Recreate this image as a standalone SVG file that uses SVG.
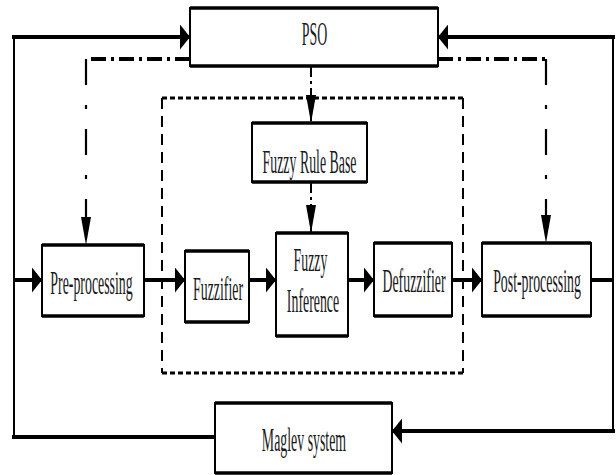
<svg xmlns="http://www.w3.org/2000/svg" width="616" height="475" viewBox="0 0 616 475">
<style>
.box{fill:#fff;stroke:#000;stroke-width:2}
.edge{fill:none;stroke:#000;stroke-width:3.5}
.lbl{font-family:"Liberation Serif","Times New Roman",serif;font-size:33px;fill:#1a1a1a;text-anchor:middle}
.flow{fill:none;stroke:#000;stroke-width:4}
.thin{fill:none;stroke:#000;stroke-width:2}
.dd{fill:none;stroke:#000;stroke-width:4;stroke-dasharray:15 5 3 5}
.ddv{fill:none;stroke:#000;stroke-width:2.2;stroke-dasharray:26 20 4 20}
.ddc{fill:none;stroke:#000;stroke-width:2;stroke-dasharray:11 4 3 4}
.dh{fill:none;stroke:#000;stroke-width:3;stroke-dasharray:5 3}
.dv{fill:none;stroke:#000;stroke-width:2;stroke-dasharray:11 7}
</style>
<defs>
<marker id="ah" markerUnits="userSpaceOnUse" markerWidth="10" markerHeight="25" refX="10" refY="12.5" orient="auto"><path d="M0,0 L10,12.5 L0,25 z" fill="#000"/></marker>
<marker id="av" markerUnits="userSpaceOnUse" markerWidth="28" markerHeight="10" refX="28" refY="5" orient="auto"><path d="M0,0 L28,5 L0,10 z" fill="#000"/></marker>
</defs>

<g id="connectors">
<path class="dh" d="M162,98 H463 M162,373 H463"/>
<path class="dv" d="M162,98 V373 M463,98 V373"/>
<path class="thin" d="M14,35 V439"/>
<path class="flow" d="M12,37 H190" marker-end="url(#ah)"/>
<path class="flow" d="M12,437 H215"/>
<path class="thin" d="M613,35 V433"/>
<path class="flow" d="M615,37 H438" marker-end="url(#ah)"/>
<path class="flow" d="M615,431 H392" marker-end="url(#ah)"/>
<path class="flow" d="M14,280 H42" marker-end="url(#ah)"/>
<path class="flow" d="M144,280 H185" marker-end="url(#ah)"/>
<path class="flow" d="M249,280 H276" marker-end="url(#ah)"/>
<path class="flow" d="M348,280 H374" marker-end="url(#ah)"/>
<path class="flow" d="M452,280 H482" marker-end="url(#ah)"/>
<path class="flow" d="M591,280 H613"/>
<path class="dd" d="M190,59 H86"/>
<path class="ddv" d="M86,59 V245" marker-end="url(#av)"/>
<path class="dd" d="M438,59 H546"/>
<path class="ddv" d="M546,59 V243" marker-end="url(#av)"/>
<path class="ddc" d="M311,66 V123" marker-end="url(#av)"/>
<path class="ddc" d="M311,182 V233" marker-end="url(#av)"/>
</g>

<g id="pso">
<rect class="box" x="190" y="8" width="248" height="58"/>
<path class="edge" d="M190,8 H438 M190,66 H438"/>
<text class="lbl" transform="translate(314.5,45) scale(0.42,1)">PSO</text>
</g>

<g id="fuzzy-rule-base">
<rect class="box" x="252" y="123" width="115" height="59"/>
<path class="edge" d="M252,123 H367 M252,182 H367"/>
<text class="lbl" transform="translate(309.5,173) scale(0.42,1)">Fuzzy Rule Base</text>
</g>

<g id="pre-processing">
<rect class="box" x="42" y="245" width="102" height="71"/>
<path class="edge" d="M42,245 H144 M42,316 H144"/>
<text class="lbl" transform="translate(91.5,294) scale(0.42,1)">Pre-processing</text>
</g>

<g id="fuzzifier">
<rect class="box" x="185" y="251" width="64" height="71"/>
<path class="edge" d="M185,251 H249 M185,322 H249"/>
<text class="lbl" transform="translate(218,300) scale(0.42,1)">Fuzzifier</text>
</g>

<g id="fuzzy-inference">
<rect class="box" x="276" y="233" width="72" height="103"/>
<path class="edge" d="M276,233 H348 M276,336 H348"/>
<text class="lbl" transform="translate(310.5,271) scale(0.42,1)">Fuzzy</text>
<text class="lbl" transform="translate(313,312) scale(0.42,1)">Inference</text>
</g>

<g id="defuzzifier">
<rect class="box" x="374" y="243" width="78" height="73"/>
<path class="edge" d="M374,243 H452 M374,316 H452"/>
<text class="lbl" transform="translate(414,292) scale(0.42,1)">Defuzzifier</text>
</g>

<g id="post-processing">
<rect class="box" x="482" y="243" width="109" height="73"/>
<path class="edge" d="M482,243 H591 M482,316 H591"/>
<text class="lbl" transform="translate(537,292) scale(0.42,1)">Post-processing</text>
</g>

<g id="maglev-system">
<rect class="box" x="215" y="403" width="177" height="70"/>
<path class="edge" d="M215,403 H392 M215,473 H392"/>
<text class="lbl" transform="translate(304,451) scale(0.42,1)">Maglev system</text>
</g>
</svg>
